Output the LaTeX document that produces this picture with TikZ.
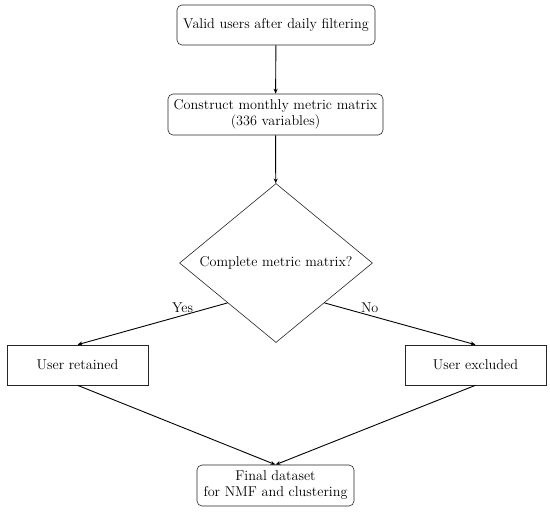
\documentclass[tikz,border=0pt]{standalone}
\usetikzlibrary{arrows.meta}
\usetikzlibrary{shapes.geometric}

\tikzset{
  roundbox/.style={draw=black!85, line width=0.6pt, rounded corners=5pt, align=center, inner sep=0pt},
  plainbox/.style={draw=black!85, line width=0.6pt, align=center, inner sep=0pt, minimum width=141pt, minimum height=40pt},
  decision/.style={diamond, aspect=1.21, draw=black!85, line width=0.6pt, inner sep=0pt, minimum width=193pt, minimum height=159pt},
  flowarrow/.style={-{Stealth[length=5pt, width=4pt]}, line width=0.9pt},
}

\begin{document}
\begin{tikzpicture}[x=1pt, y=1pt, font=\fontsize{14.2}{16}\selectfont]
  \useasboundingbox (0, 0) rectangle (550, 512);

  % 流程节点
  \node[roundbox, minimum width=198pt, minimum height=40pt] (valid) at (276, 487) {Valid users after daily filtering};
  \node[roundbox, minimum width=215pt, minimum height=41pt] (construct) at (275.5, 397.5) {Construct monthly metric matrix\\(336 variables)};
  \node[decision] (check) at (276, 249) {Complete metric matrix?};
  \node[plainbox] (retained) at (77.5, 147) {User retained};
  \node[plainbox] (excluded) at (475.5, 147) {User excluded};
  \node[roundbox, minimum width=157pt, minimum height=41pt] (final) at (275.5, 26.5) {Final dataset\\for NMF and clustering};

  % 连接箭头
  \draw[flowarrow] (valid) -- (construct);
  \draw[flowarrow] (construct) -- (check);
  \draw[flowarrow] (check.south west) -- node[pos=0.3, above, inner sep=2pt] (yes) {Yes} (retained.north);
  \draw[flowarrow] (check.south east) -- node[pos=0.3, above, inner sep=2pt] (no) {No} (excluded.north);
  \draw[flowarrow] (retained.south) -- (final.north);
  \draw[flowarrow] (excluded.south) -- (final.north);
\end{tikzpicture}
\end{document}
